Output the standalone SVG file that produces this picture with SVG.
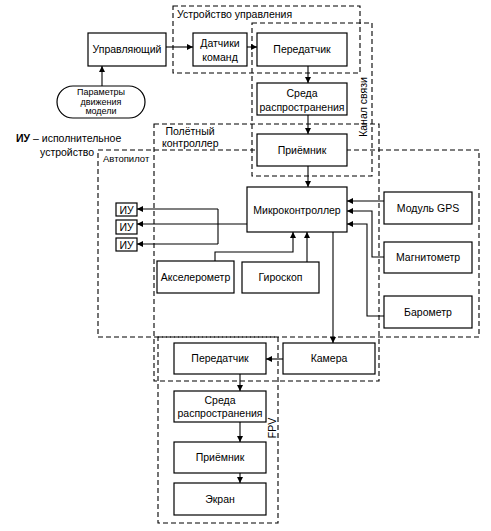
<svg xmlns="http://www.w3.org/2000/svg" width="491" height="531" viewBox="0 0 491 531">
<style>
.box{fill:#fff;stroke:#000;stroke-width:1.2}
.grp{fill:none;stroke:#000;stroke-width:1.1;stroke-dasharray:5,3}
.ln{fill:none;stroke:#000;stroke-width:1.1}
.t{font-family:"Liberation Sans",Arial,sans-serif;font-size:10.5px;fill:#000;text-anchor:middle}
.tl{font-family:"Liberation Sans",Arial,sans-serif;font-size:10.5px;fill:#000}
.sm{font-size:9px}
</style>
<defs>
<marker id="ah" viewBox="0 0 8 8" refX="8" refY="4" markerWidth="6" markerHeight="6" orient="auto" markerUnits="userSpaceOnUse">
<path d="M0,0 L8,4 L0,8 z" fill="#000"/>
</marker>
</defs>
<rect width="491" height="531" fill="#fff"/>

<g id="groups">
<rect class="grp" x="173" y="6" width="187" height="67"/>
<rect class="grp" x="252" y="23" width="120" height="153"/>
<rect class="grp" x="154" y="124" width="225" height="257"/>
<rect class="grp" x="98" y="150" width="381" height="187"/>
<rect class="grp" x="158" y="337" width="120" height="186"/>
<text class="tl" x="177" y="18">Устройство управления</text>
<text class="t" transform="translate(367,107) rotate(-90)">Канал связи</text>
<text class="t" x="190" y="135">Полётный</text>
<text class="tl" x="162" y="147">контроллер</text>
<text class="tl" x="103" y="162" style="font-size:9.5px">Автопилот</text>
<text class="t" transform="translate(276,428) rotate(-90)">FPV</text>
<text class="tl" x="16" y="142"><tspan font-weight="bold">ИУ</tspan> – исполнительное</text>
<text class="tl" x="40" y="156">устройство</text>
</g>

<g id="connectors">
<line class="ln" x1="166" y1="47" x2="193" y2="47" marker-end="url(#ah)"/>
<line class="ln" x1="247" y1="47" x2="257" y2="47" marker-end="url(#ah)"/>
<line class="ln" x1="102" y1="86" x2="102" y2="66" marker-end="url(#ah)"/>
<line class="ln" x1="308" y1="66" x2="308" y2="83" marker-end="url(#ah)"/>
<line class="ln" x1="308" y1="115" x2="308" y2="134" marker-end="url(#ah)"/>
<line class="ln" x1="308" y1="166" x2="308" y2="187" marker-end="url(#ah)"/>
<line class="ln" x1="247" y1="224" x2="137" y2="224" marker-end="url(#ah)"/>
<polyline class="ln" points="218,209 218,244"/>
<line class="ln" x1="218" y1="209" x2="137" y2="209" marker-end="url(#ah)"/>
<line class="ln" x1="218" y1="244" x2="137" y2="244" marker-end="url(#ah)"/>
<polyline class="ln" points="215,261 215,252 293,252 293,232" marker-end="url(#ah)"/>
<line class="ln" x1="307" y1="262" x2="307" y2="232" marker-end="url(#ah)"/>
<line class="ln" x1="384" y1="201" x2="347" y2="201" marker-end="url(#ah)"/>
<polyline class="ln" points="384,257 372,257 372,211 347,211" marker-end="url(#ah)"/>
<polyline class="ln" points="384,316 367,316 367,224 347,224" marker-end="url(#ah)"/>
<line class="ln" x1="333" y1="232" x2="333" y2="343" marker-end="url(#ah)"/>
<line class="ln" x1="283" y1="359" x2="266" y2="359" marker-end="url(#ah)"/>
<line class="ln" x1="240" y1="374" x2="240" y2="391" marker-end="url(#ah)"/>
<line class="ln" x1="240" y1="422" x2="240" y2="442" marker-end="url(#ah)"/>
<line class="ln" x1="240" y1="473" x2="240" y2="483" marker-end="url(#ah)"/>
</g>

<g id="n-upr"><rect class="box" x="88" y="33" width="78" height="33"/><text class="t" x="127" y="53">Управляющий</text></g>
<g id="n-params"><rect class="box" x="57" y="86" width="88" height="32" rx="16"/><text class="t sm" x="101" y="95">Параметры</text><text class="t sm" x="101" y="104.5">движения</text><text class="t sm" x="101" y="114">модели</text></g>
<g id="n-dat"><rect class="box" x="193" y="33" width="54" height="33"/><text class="t" x="220" y="47">Датчики</text><text class="t" x="220" y="61">команд</text></g>
<g id="n-tx1"><rect class="box" x="257" y="33" width="90" height="33"/><text class="t" x="302" y="53">Передатчик</text></g>
<g id="n-env1"><rect class="box" x="257" y="83" width="90" height="32"/><text class="t" x="302" y="97">Среда</text><text class="t" x="302" y="111">распространения</text></g>
<g id="n-rx1"><rect class="box" x="257" y="134" width="90" height="32"/><text class="t" x="302" y="154">Приёмник</text></g>
<g id="n-mcu"><rect class="box" x="247" y="187" width="100" height="45"/><text class="t" x="297" y="214">Микроконтроллер</text></g>
<g id="n-iu1"><rect class="box" x="116" y="203" width="21" height="13"/><text class="t" x="126.5" y="213.5">ИУ</text></g>
<g id="n-iu2"><rect class="box" x="116" y="220" width="21" height="14"/><text class="t" x="126.5" y="231">ИУ</text></g>
<g id="n-iu3"><rect class="box" x="116" y="238" width="21" height="13"/><text class="t" x="126.5" y="248.5">ИУ</text></g>
<g id="n-acc"><rect class="box" x="157" y="261" width="77" height="32"/><text class="t" x="195.5" y="281">Акселерометр</text></g>
<g id="n-gyr"><rect class="box" x="242" y="262" width="77" height="31"/><text class="t" x="280.5" y="281">Гироскоп</text></g>
<g id="n-gps"><rect class="box" x="384" y="192" width="88" height="32"/><text class="t" x="428" y="212">Модуль GPS</text></g>
<g id="n-mag"><rect class="box" x="384" y="242" width="88" height="31"/><text class="t" x="428" y="261">Магнитометр</text></g>
<g id="n-bar"><rect class="box" x="384" y="296" width="88" height="32"/><text class="t" x="428" y="316">Барометр</text></g>
<g id="n-cam"><rect class="box" x="283" y="343" width="92" height="31"/><text class="t" x="329" y="362">Камера</text></g>
<g id="n-tx2"><rect class="box" x="174" y="343" width="92" height="31"/><text class="t" x="220" y="362">Передатчик</text></g>
<g id="n-env2"><rect class="box" x="174" y="391" width="92" height="31"/><text class="t" x="220" y="404">Среда</text><text class="t" x="220" y="417">распространения</text></g>
<g id="n-rx2"><rect class="box" x="174" y="442" width="92" height="31"/><text class="t" x="220" y="461">Приёмник</text></g>
<g id="n-scr"><rect class="box" x="174" y="483" width="92" height="32"/><text class="t" x="220" y="503">Экран</text></g>
</svg>
